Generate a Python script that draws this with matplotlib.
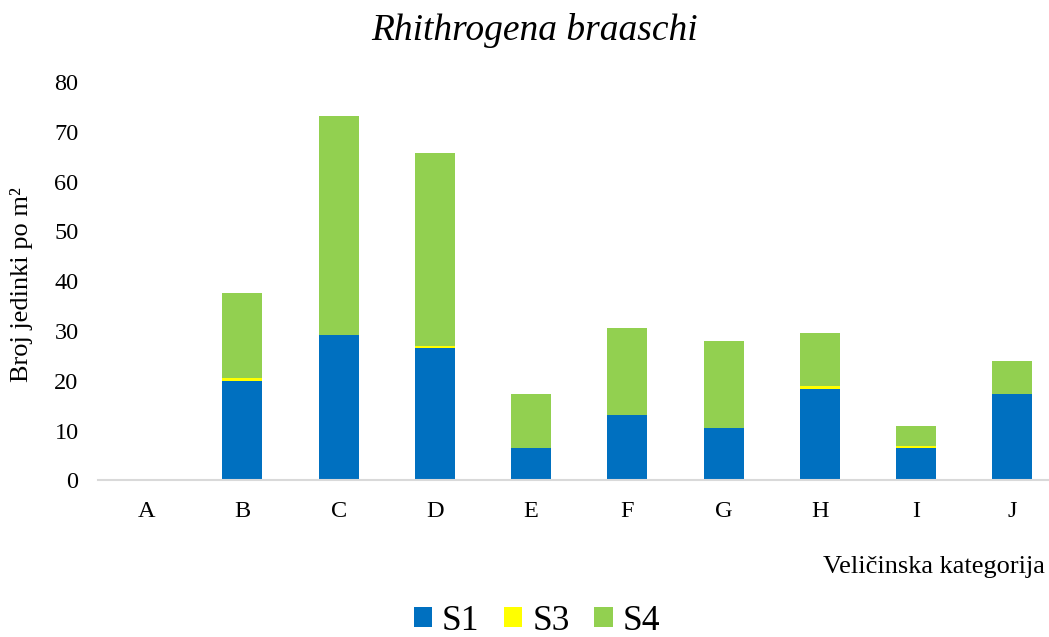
import numpy as np
import matplotlib.pyplot as plt

# podaci ocitani sa grafika
kategorije = ['A', 'B', 'C', 'D', 'E', 'F', 'G', 'H', 'I', 'J']
s1 = [0, 20.0, 29.2, 26.5, 6.5, 13.2, 10.6, 18.4, 6.5, 17.4]
s3 = [0, 0.5, 0, 0.5, 0, 0, 0, 0.5, 0.5, 0]
s4 = [0, 17.2, 44.0, 38.8, 10.8, 17.4, 17.35, 10.8, 4.0, 6.65]

plt.rcParams['font.family'] = ['Liberation Serif', 'DejaVu Serif']

fig = plt.figure(figsize=(10.49, 6.37), dpi=100)
ax = fig.add_axes([98 / 1049, 0.2457, 962.5 / 1049, 0.6256])

x = np.arange(len(kategorije))
w = 0.415
s1 = np.array(s1)
s3 = np.array(s3)
s4 = np.array(s4)
ax.bar(x, s1, w, color='#0070C0', label='S1')
ax.bar(x, s3, w, bottom=s1, color='#FFFF00', label='S3')
ax.bar(x, s4, w, bottom=s1 + s3, color='#92D050', label='S4')

ax.set_xlim(-0.5, len(kategorije) - 0.5)
ax.set_ylim(0, 80)
ax.set_yticks(range(0, 81, 10))
ax.set_xticks(x)
ax.set_xticklabels(kategorije)
ax.tick_params(axis='both', length=0, labelsize=17.5)
ax.tick_params(axis='y', pad=14)
ax.tick_params(axis='x', pad=15)
for s in ['top', 'right', 'left']:
    ax.spines[s].set_visible(False)
ax.spines['bottom'].set_color('#d9d9d9')
ax.spines['bottom'].set_linewidth(1.5)

fig.text(535 / 1049, 1 - 30 / 637, 'Rhithrogena braaschi', fontsize=27,
         style='italic', ha='center', va='center')
fig.text(22 / 1049, 1 - 285 / 637, 'Broj jedinki po m²', fontsize=19,
         rotation=90, ha='center', va='center')
fig.text(1045 / 1049, 1 - 567 / 637, 'Veličinska kategorija', fontsize=19,
         ha='right', va='center')

fig.legend(loc='center', bbox_to_anchor=(537 / 1049, 1 - 621 / 637), ncol=3,
           frameon=False, fontsize=25.5, handlelength=0.51, handleheight=0.51,
           handletextpad=0.28, columnspacing=0.7)

fig.savefig('out.png', dpi=100)
